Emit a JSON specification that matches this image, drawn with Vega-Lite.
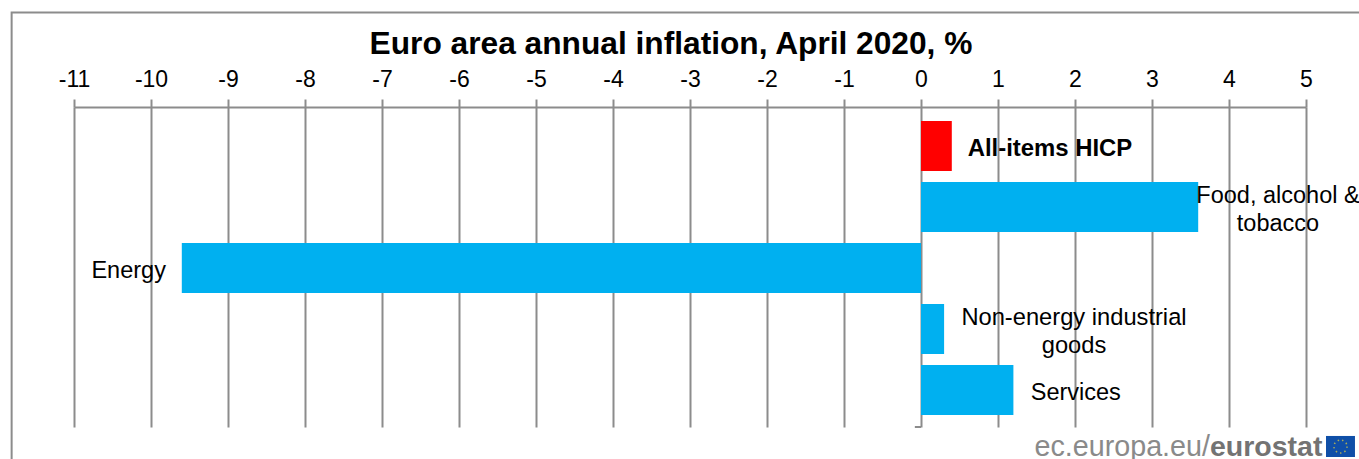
{
"$schema":"https://vega.github.io/schema/vega-lite/v6.json",
"autosize":{"type":"none"},
"width":1232,"height":320,
"padding":{"left":74,"top":107,"right":53,"bottom":32},
"background":"white",
"title":{"text":"Euro area annual inflation, April 2020, %","font":"Liberation Sans","fontSize":31.7,"fontWeight":"bold","color":"black","anchor":"middle","dx":-19,"offset":-49},
"config":{"view":{"stroke":null},"font":"Liberation Sans"},
"datasets":{
"items":[
{"category":"All-items HICP","value":0.4,"group":"headline","label":["All-items HICP"]},
{"category":"Food, alcohol & tobacco","value":3.6,"group":"component","label":["Food, alcohol &","tobacco"]},
{"category":"Energy","value":-9.6,"group":"component","label":["Energy"]},
{"category":"Non-energy industrial goods","value":0.3,"group":"component","label":["Non-energy industrial","goods"]},
{"category":"Services","value":1.2,"group":"component","label":["Services"]}
]},
"data":{"name":"items"},
"resolve":{"scale":{"y":"independent"}},
"layer":[
{"layer":[
{"mark":{"type":"bar"},
 "encoding":{
 "x":{"field":"value","type":"quantitative","scale":{"domain":[-11,5],"nice":false,"zero":false},
  "axis":{"orient":"top","values":[-11,-10,-9,-8,-7,-6,-5,-4,-3,-2,-1,0,1,2,3,4,5],"title":null,"grid":true,"gridColor":"#8c8c8c","gridWidth":2,"gridOpacity":1,"domainColor":"#8c8c8c","domainWidth":2,"tickColor":"#8c8c8c","tickWidth":2,"tickSize":8,"labelFontSize":23,"labelColor":"black","labelPadding":8,"labelFont":"Liberation Sans","labelFlush":false,"labelOverlap":false,"labelExpr":"'' + datum.value"}},
 "y":{"field":"category","type":"nominal","sort":null,"scale":{"paddingInner":0.18,"paddingOuter":0.213,"align":0.54},"axis":null},
 "color":{"field":"group","type":"nominal","scale":{"domain":["headline","component"],"range":["#ff0000","#00b0f0"]},"legend":null}
 }},
{"transform":[{"filter":"datum.category==='All-items HICP'"}],"mark":{"type":"text","fontSize":23.9,"fontWeight":"bold","align":"center","baseline":"middle","color":"black","dy":3},"encoding":{"x":{"datum":1.675,"type":"quantitative"},"y":{"field":"category","type":"nominal","sort":null},"text":{"field":"label"}}},
{"transform":[{"filter":"datum.category==='Food, alcohol & tobacco'"}],"mark":{"type":"text","fontSize":23.5,"lineHeight":28,"align":"center","baseline":"middle","color":"black","dy":-11},"encoding":{"x":{"datum":4.636,"type":"quantitative"},"y":{"field":"category","type":"nominal","sort":null},"text":{"field":"label"}}},
{"transform":[{"filter":"datum.category==='Energy'"}],"mark":{"type":"text","fontSize":23.5,"align":"center","baseline":"middle","color":"black","dy":3},"encoding":{"x":{"datum":-10.29,"type":"quantitative"},"y":{"field":"category","type":"nominal","sort":null},"text":{"field":"label"}}},
{"transform":[{"filter":"datum.category==='Non-energy industrial goods'"}],"mark":{"type":"text","fontSize":23.7,"lineHeight":28,"align":"center","baseline":"middle","color":"black","dy":-11},"encoding":{"x":{"datum":1.987,"type":"quantitative"},"y":{"field":"category","type":"nominal","sort":null},"text":{"field":"label"}}},
{"transform":[{"filter":"datum.category==='Services'"}],"mark":{"type":"text","fontSize":23.5,"align":"center","baseline":"middle","color":"black","dy":3},"encoding":{"x":{"datum":2.01,"type":"quantitative"},"y":{"field":"category","type":"nominal","sort":null},"text":{"field":"label"}}}
]},
{"data":{"values":[{"note":"decor"}]},
 "layer":[
 {"mark":{"type":"rect","fill":null,"stroke":"#8c8c8c","strokeWidth":2},"encoding":{"x":{"datum":-11.81,"type":"quantitative"},"x2":{"datum":6.3},"y":{"datum":-1.549,"type":"quantitative","scale":{"domain":[0,5.246],"reverse":true,"nice":false,"zero":false},"axis":null},"y2":{"datum":6.2}}},
 {"mark":{"type":"rule","stroke":"#8c8c8c","strokeWidth":2},"encoding":{"x":{"datum":-0.08,"type":"quantitative"},"x2":{"datum":0},"y":{"datum":5.246,"type":"quantitative","scale":{"domain":[0,5.246],"reverse":true,"nice":false,"zero":false},"axis":null}}},
 {"mark":{"type":"text","text":"ec.europa.eu/","fontSize":28.7,"align":"right","baseline":"alphabetic","color":"#8a8a8a"},"encoding":{"x":{"datum":3.753,"type":"quantitative"},"y":{"datum":5.72,"type":"quantitative","scale":{"domain":[0,5.246],"reverse":true,"nice":false,"zero":false},"axis":null}}},
 {"mark":{"type":"text","text":"eurostat","fontSize":28.5,"fontWeight":"bold","align":"left","baseline":"alphabetic","color":"#737373"},"encoding":{"x":{"datum":3.753,"type":"quantitative"},"y":{"datum":5.72,"type":"quantitative","scale":{"domain":[0,5.246],"reverse":true,"nice":false,"zero":false},"axis":null}}},
 {"mark":{"type":"rect","fill":"#0f4fa8"},"encoding":{"x":{"datum":5.26,"type":"quantitative"},"x2":{"datum":5.636},"y":{"datum":5.393,"type":"quantitative","scale":{"domain":[0,5.246],"reverse":true,"nice":false,"zero":false},"axis":null},"y2":{"datum":5.738}}},
 {"mark":{"type":"point","filled":false,"size":170,"stroke":"#e6d23c","strokeWidth":1.5,"strokeDash":[1.5,3]},"encoding":{"x":{"datum":5.448,"type":"quantitative"},"y":{"datum":5.566,"type":"quantitative","scale":{"domain":[0,5.246],"reverse":true,"nice":false,"zero":false},"axis":null}}}
 ]}
]
}
